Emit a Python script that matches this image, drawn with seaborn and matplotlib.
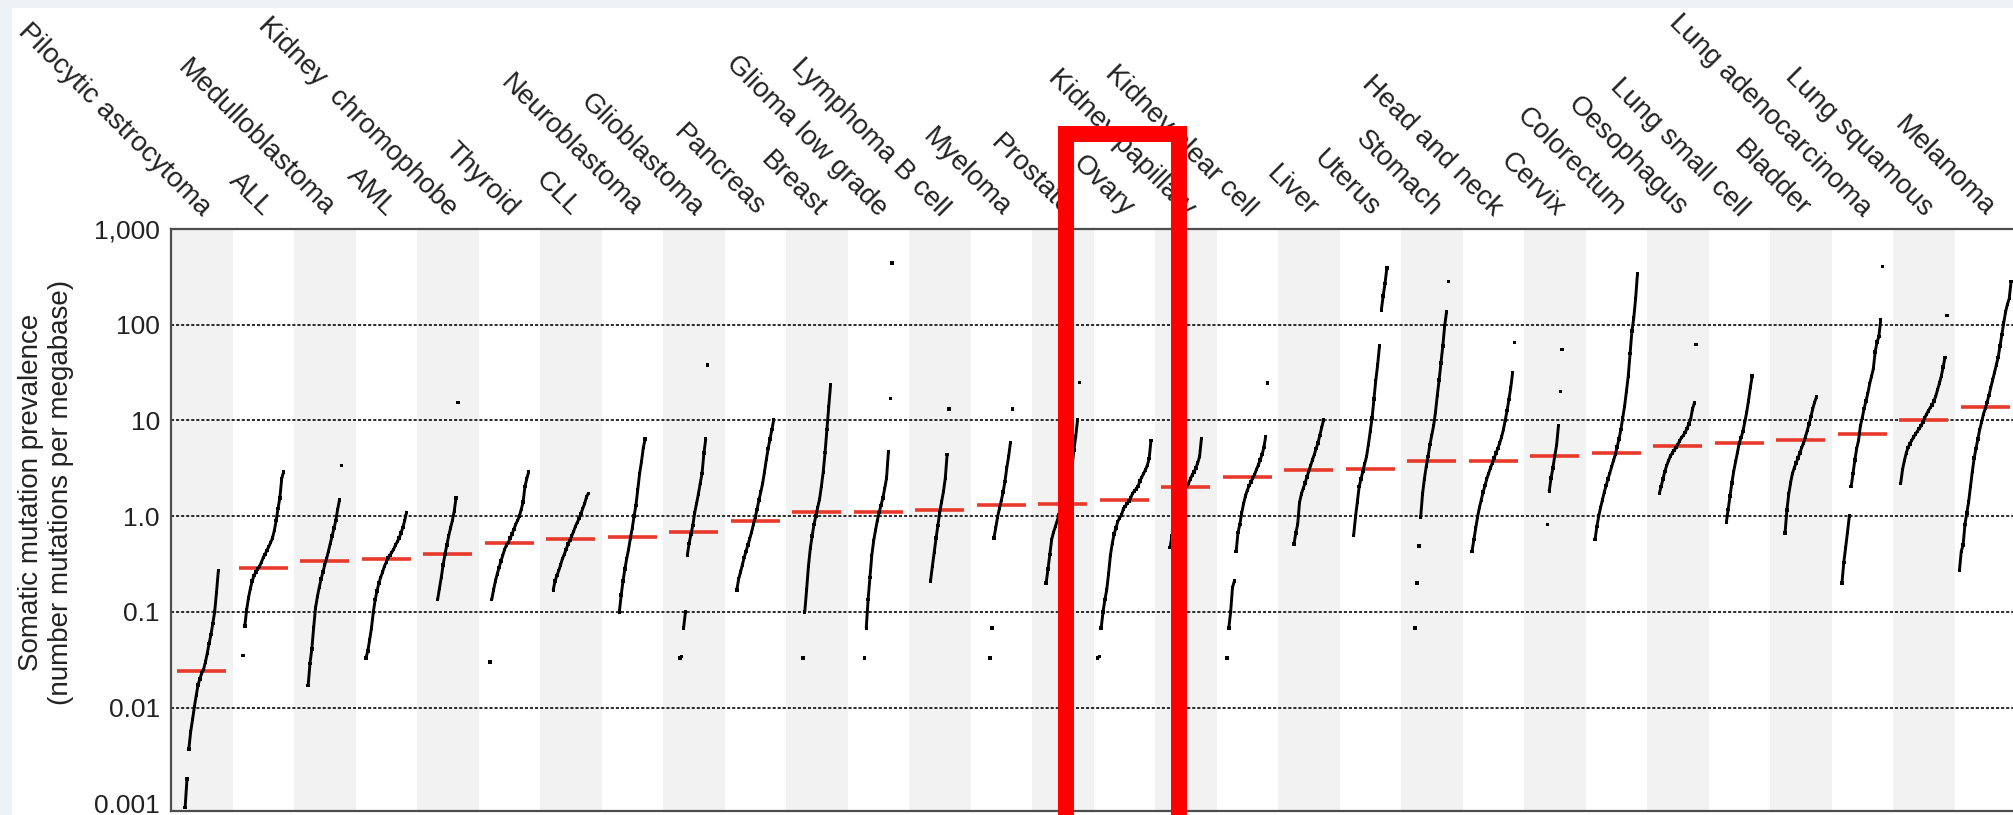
import matplotlib
matplotlib.use('Agg')
import matplotlib.pyplot as plt
from matplotlib.patches import Rectangle
import seaborn as sns
import pandas as pd
import numpy as np

# cancer types, left to right
names = ['Pilocytic astrocytoma', 'ALL', 'Medulloblastoma', 'AML', 'Kidney  chromophobe',
         'Thyroid', 'CLL', 'Neuroblastoma', 'Glioblastoma', 'Pancreas', 'Breast',
         'Glioma low grade', 'Lymphoma B cell', 'Myeloma', 'Prostate', 'Ovary',
         'Kidney papillary', 'Kidney clear cell', 'Liver', 'Uterus', 'Stomach',
         'Head and neck', 'Cervix', 'Colorectum', 'Oesophagus', 'Lung small cell',
         'Bladder', 'Lung adenocarcinoma', 'Lung squamous', 'Melanoma']

# median mutations per megabase (red bars)
medians = [0.024, 0.29, 0.34, 0.36, 0.40, 0.53, 0.58, 0.60, 0.68, 0.90, 1.10, 1.10, 1.15,
           1.30, 1.33, 1.48, 2.04, 2.56, 3.07, 3.13, 3.73, 3.73, 4.24, 4.56, 5.4, 5.8,
           6.2, 7.2, 10.2, 13.9]

# sorted samples (mutations per megabase)
pilocytic = [0.00091, 0.0018, 0.0037, 0.0056, 0.0075, 0.0102, 0.0134, 0.0173, 0.020, 0.023,
             0.025, 0.030, 0.037, 0.047, 0.058, 0.076, 0.10, 0.16, 0.27]
all_ = [0.035, 0.071, 0.105, 0.14, 0.175, 0.21, 0.24, 0.26, 0.28, 0.30, 0.33, 0.37, 0.40,
        0.44, 0.48, 0.53, 0.59, 0.71, 0.9, 1.2, 1.55, 2.45, 2.9]
medullo = [0.017, 0.029, 0.041, 0.069, 0.11, 0.144, 0.18, 0.22, 0.26, 0.31, 0.36, 0.43,
           0.52, 0.62, 0.75, 0.9, 1.18, 1.48, 3.4]
aml = [0.033, 0.039, 0.051, 0.068, 0.1, 0.134, 0.165, 0.2, 0.23, 0.26, 0.3, 0.33, 0.37,
       0.39, 0.42, 0.45, 0.5, 0.54, 0.59, 0.67, 0.76, 0.9, 1.1]
kidney_chromophobe = [0.134, 0.176, 0.23, 0.31, 0.40, 0.50, 0.62, 0.75, 0.9, 1.13, 1.55, 15.5]
thyroid = [0.030, 0.134, 0.17, 0.21, 0.25, 0.29, 0.34, 0.39, 0.45, 0.50, 0.53, 0.59, 0.65,
           0.73, 0.82, 0.9, 1.0, 1.18, 1.4, 2.04, 2.45, 2.9]
cll = [0.17, 0.21, 0.24, 0.27, 0.31, 0.36, 0.40, 0.45, 0.51, 0.56, 0.62, 0.69, 0.78, 0.86,
       0.94, 1.06, 1.2, 1.35, 1.58, 1.73]
neuroblastoma = [0.1, 0.15, 0.21, 0.28, 0.36, 0.45, 0.59, 0.75, 1.0, 1.3, 1.9, 2.8, 3.7, 5.2, 6.4]
glioblastoma = [0.033, 0.034, 0.068, 0.1, 0.39, 0.52, 0.65, 0.8, 1.08, 1.35, 1.7, 2.2, 2.8,
                4.55, 6.4, 38]
pancreas = [0.17, 0.22, 0.26, 0.31, 0.37, 0.43, 0.50, 0.58, 0.68, 0.82, 0.98, 1.18, 1.48,
            1.78, 2.2, 2.9, 3.9, 5.1, 6.4, 8.0, 10.1]
breast = [0.033, 0.10, 0.17, 0.30, 0.46, 0.62, 0.82, 1.0, 1.23, 1.5, 2.04, 2.9, 4.6, 8.0,
          13.9, 23.6]
glioma_low = [0.033, 0.068, 0.134, 0.23, 0.39, 0.55, 0.71, 0.9, 1.1, 1.3, 1.55, 1.95, 2.5,
              4.7, 17, 440]
lymphoma_b = [0.21, 0.30, 0.42, 0.59, 0.8, 1.1, 1.41, 1.8, 2.5, 4.4, 13.2]
myeloma = [0.033, 0.068, 0.59, 0.75, 0.98, 1.2, 1.45, 1.78, 2.3, 3.2, 4.2, 5.9, 13.2]
prostate = [0.2, 0.28, 0.40, 0.57, 0.68, 0.78, 0.9, 1.03, 1.18, 1.33, 1.5, 1.7, 1.86, 2.45,
            3.2, 4.9, 6.7, 10.1, 25]
ovary = [0.033, 0.034, 0.068, 0.10, 0.134, 0.17, 0.25, 0.39, 0.52, 0.65, 0.75, 0.88, 0.96,
         1.03, 1.19, 1.27, 1.35, 1.44, 1.55, 1.73, 1.83, 1.93, 2.05, 2.34, 2.55, 2.8, 3.05,
         3.4, 4.0, 6.2]
kidney_papillary = [0.47, 0.62, 0.75, 0.9, 1.1, 1.3, 1.5, 1.7, 1.9, 2.04, 2.2, 2.45, 2.7,
                    2.9, 3.2, 3.6, 4.2, 6.5]
kidney_clear = [0.033, 0.068, 0.10, 0.18, 0.21, 0.43, 0.68, 0.82, 1.08, 1.35, 1.62, 1.86,
                2.08, 2.28, 2.5, 2.73, 3.07, 3.43, 3.87, 4.4, 5.2, 6.8, 24.5]
liver = [0.51, 0.67, 0.82, 1.39, 1.7, 1.95, 2.23, 2.56, 2.94, 3.37, 3.87, 4.4, 5.1, 5.8,
         7.0, 8.4, 10.1]
uterus = [0.63, 0.98, 1.41, 2.04, 2.45, 2.94, 3.53, 4.2, 5.6, 7.7, 10.6, 16.7, 26.3, 38, 60,
          142, 200, 270, 390]
stomach = [0.068, 0.20, 0.49, 0.98, 1.7, 2.45, 3.3, 4.2, 5.6, 7.0, 8.8, 12.1, 18.3, 26.4,
           40, 60, 97, 136, 282]
head_neck = [0.43, 0.57, 0.75, 0.98, 1.23, 1.48, 1.78, 2.08, 2.45, 2.8, 3.2, 3.6, 4.05, 4.56,
             5.1, 5.8, 6.7, 8.0, 10.1, 12.7, 16.6, 22, 31.6, 65]
cervix = [0.82, 1.83, 2.5, 3.2, 4.24, 5.5, 8.8, 20, 55]
colorectum = [0.57, 0.78, 1.0, 1.23, 1.48, 1.78, 2.08, 2.45, 2.8, 3.28, 3.8, 4.4, 5.3, 6.4,
              8.0, 10.6, 14, 20, 29, 50, 86, 118, 188, 340]
oesophagus = [1.73, 2.04, 2.45, 2.94, 3.37, 3.8, 4.24, 4.56, 4.86, 5.2, 5.6, 6.1, 6.6, 7.0,
              7.5, 8.2, 9.2, 10.3, 13.2, 15.2, 62]
lung_small = [0.86, 1.18, 1.62, 2.23, 2.94, 3.7, 4.6, 5.8, 6.6, 7.7, 9.6, 12.1, 16, 22, 29]
bladder = [0.67, 1.16, 1.7, 2.23, 2.8, 3.2, 3.6, 4.05, 4.56, 5.2, 5.8, 6.7, 7.8, 9.2, 11,
           13.2, 15.5, 17.5]
lung_adeno = [0.2, 0.33, 0.47, 0.68, 1.0, 2.04, 2.8, 3.87, 5.1, 6.2, 8.8, 10.6, 13.3, 15.9,
              19.1, 24, 28.8, 34.7, 52, 65.7, 75, 113, 408]
lung_squamous = [2.2, 3.07, 3.8, 4.56, 5.2, 5.7, 6.2, 6.7, 7.2, 7.7, 8.2, 8.8, 9.6, 10.6,
                 11.6, 12.6, 13.6, 14.5, 15.9, 17.9, 21, 24.5, 29, 36, 45.6, 125]
melanoma = [0.27, 0.43, 0.5, 0.82, 1.08, 1.41, 2.04, 2.94, 4.05, 5.1, 6.4, 8.0, 9.6, 11.6,
            13.3, 15.5, 18.3, 22, 26.4, 31.6, 38, 45.6, 60, 79, 104, 136, 163, 188, 282]

samples = [pilocytic, all_, medullo, aml, kidney_chromophobe, thyroid, cll, neuroblastoma,
           glioblastoma, pancreas, breast, glioma_low, lymphoma_b, myeloma, prostate, ovary,
           kidney_papillary, kidney_clear, liver, uterus, stomach, head_neck, cervix,
           colorectum, oesophagus, lung_small, bladder, lung_adeno, lung_squamous, melanoma]

ytick_vals = [0.001, 0.01, 0.1, 1, 10, 100, 1000]
ytick_labels = ['0.001', '0.01', '0.1', '1.0', '10', '100', '1,000']

# long table: one row per sample, sorted samples spread across the column
step = 0.03      # column units between neighbouring samples
max_gap = 0.3    # decades; bigger jumps are drawn as loose dots
rows = []
for k, (name, vals) in enumerate(zip(names, samples)):
    n = len(vals)
    seg = 0
    for i, v in enumerate(vals):
        if i > 0 and np.log10(v) - np.log10(vals[i - 1]) > max_gap:
            seg += 1
        rows.append({'type': name, 'x': k + (i - (n - 1) / 2) * step, 'value': v,
                     'seg': f'{k}_{seg}'})
df = pd.DataFrame(rows)

sns.set_style('white')
plt.rcParams['font.family'] = ['Liberation Sans', 'DejaVu Sans']
txt = '#222222'

W, H = 2013, 815
fig = plt.figure(figsize=(W / 100, H / 100), dpi=100, facecolor='#EDF2F6')
fig.add_artist(Rectangle((12 / W, 0), 1, 1 - 8 / H, transform=fig.transFigure,
                         facecolor='white', edgecolor='none', zorder=-10))

ax = fig.add_axes([171 / W, 4 / H, 1845 / W, 582 / H])
ax.set_facecolor('white')

for k in range(0, len(names), 2):
    ax.axvspan(k - 0.5, k + 0.5, color='#F2F2F2', lw=0, zorder=0)
for v in [0.01, 0.1, 1, 10, 100]:
    ax.axhline(v, color='#1a1a1a', lw=1.3, ls=(0, (1.7, 1.1)), zorder=1)

xs = np.arange(len(names))
ax.hlines(medians, xs - 0.4, xs + 0.4, color='#E8392B', lw=2.6, zorder=2)

sns.lineplot(data=df, x='x', y='value', units='seg', estimator=None, sort=False,
             color='black', lw=2.1, ax=ax, legend=False, zorder=3)
sns.scatterplot(data=df, x='x', y='value', marker='s', s=6, color='black',
                edgecolor='none', ax=ax, legend=False, zorder=3)

ax.set_yscale('log')
ax.set_ylim(10 ** -3.08, 1000)
ax.set_yticks(ytick_vals)
ax.set_yticklabels(ytick_labels)
ax.yaxis.set_minor_locator(matplotlib.ticker.NullLocator())
ax.tick_params(axis='y', length=0, pad=8, labelsize=19, labelcolor=txt)

ax.set_xlim(-0.5, len(names) - 0.5)
ax.set_xticks(xs)
ax.set_xticklabels(names)
ax.tick_params(axis='x', bottom=False, labelbottom=False, top=False, labeltop=True,
               length=0, pad=8.5, labelsize=20, labelcolor=txt)
for lab in ax.get_xticklabels():
    lab.set_rotation(-45)
    lab.set_ha('right')
    lab.set_va('baseline')
    lab.set_rotation_mode('anchor')
ax.set_xlabel('')
ax.set_ylabel('')

for side in ['left', 'top', 'bottom']:
    ax.spines[side].set_color('#4d4d4d')
    ax.spines[side].set_linewidth(1.6)
ax.spines['right'].set_visible(False)

fig.text(46 / W, 1 - 492 / H, 'Somatic mutation prevalence\n(number mutations per megabase)',
         rotation=90, ha='center', va='center', fontsize=20, linespacing=1.2, color=txt)

# highlight box around the ovary column
fig.add_artist(Rectangle((1066 / W, -3 / H), 113 / W, 684 / H, transform=fig.transFigure,
                         fill=False, edgecolor='#FF0000', lw=11.5, joinstyle='miter',
                         zorder=10))

fig.savefig('out.png', dpi=100)
